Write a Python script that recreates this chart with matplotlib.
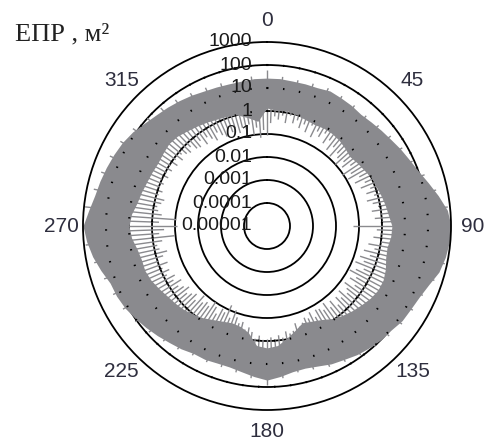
import numpy as np
import matplotlib
matplotlib.use('Agg')
import matplotlib.pyplot as plt
from matplotlib.ticker import NullLocator
from matplotlib.transforms import offset_copy

# envelope of the RCS band, every 5 degrees (m^2)
angles = list(range(0, 360, 5))
rcs_outer = [27, 27, 25, 25, 25, 30, 27, 25, 22, 25, 30, 37, 50, 67, 100, 182, 367, 741,
             1000, 906, 741, 548, 301, 202, 165, 149, 110, 100, 82, 67, 50, 41, 30, 25, 27, 37,
             50, 37, 27, 22, 22, 25, 25, 33, 41, 55, 74, 100, 135, 165, 182, 301, 497, 741,
             1000, 606, 406, 333, 272, 223, 182, 135, 90, 67, 55, 45, 37, 30, 27, 25, 25, 27]
rcs_inner = [1.35, 1.1, 1.2, 1.0, 0.82, 0.74, 0.82, 0.82, 0.74, 0.61, 0.5, 0.61, 0.74, 1.0, 1.1, 1.35, 1.65, 2.0,
             2.7, 2.5, 2.0, 2.2, 3.0, 3.7, 3.7, 3.0, 2.2, 1.65, 1.2, 0.82, 0.5, 0.37, 0.3, 0.5, 0.9, 1.65,
             2.0, 1.65, 0.5, 0.33, 0.3, 0.37, 0.5, 0.74, 1.0, 1.35, 1.65, 2.0, 2.7, 3.7, 4.5, 4.5, 5.5, 8.2,
             10, 8.2, 5.5, 4.5, 3.7, 3.3, 3.0, 3.3, 3.7, 3.3, 2.5, 2.0, 1.65, 1.35, 1.2, 1.0, 0.61, 0.37]

# narrow minima of the pattern, every 2 degrees (m^2)
dip_angles = list(range(0, 360, 2))
dip_values = [0.09, 0.3, 0.6, 0.45, 0.7, 0.35, 0.8, 0.4, 0.6, 0.3,
              0.5, 0.25, 0.6, 0.2, 0.45, 0.3, 0.55, 0.22, 0.4, 0.16,
              0.3, 0.12, 0.25, 0.18, 0.1, 0.22, 0.14, 0.3, 0.09, 0.2,
              0.12, 0.35, 0.18, 0.45, 0.25, 0.6, 0.35, 0.7, 0.3, 0.5,
              0.8, 0.4, 0.9, 0.5, 1.0, 0.055, 0.6, 0.9, 0.45, 1.0,
              0.3, 0.6, 0.22, 0.45, 0.18, 0.3, 0.14, 0.4, 0.2, 0.12,
              0.3, 0.18, 0.4, 0.15, 0.25, 0.35, 0.16, 0.3, 0.2, 0.4,
              0.18, 0.3, 0.14, 0.25, 0.18, 0.16, 0.3, 0.15, 0.25, 0.2,
              0.3, 0.4, 0.25, 0.5, 0.6, 0.45, 0.8, 0.6, 0.9, 0.7,
              0.8, 0.9, 0.6, 0.85, 0.45, 0.3, 0.4, 0.2, 0.25, 0.15,
              0.08, 0.2, 0.06, 0.15, 0.12, 0.25, 0.14, 0.1, 0.2, 0.16,
              0.22, 0.12, 0.3, 0.18, 0.25, 0.35, 0.2, 0.3, 0.45, 0.25,
              0.5, 0.35, 0.7, 0.45, 0.8, 0.4, 0.9, 0.5, 0.3, 0.6,
              0.7, 0.4, 0.11, 0.5, 0.3, 0.082, 0.5, 0.09, 0.4, 0.6,
              0.7, 0.5, 0.4, 0.8, 0.6, 0.9, 0.7, 1.0, 0.6, 0.85,
              0.6, 0.9, 0.5, 0.8, 0.45, 0.7, 0.5, 0.4, 0.6, 0.35,
              0.3, 0.5, 0.25, 0.45, 0.3, 0.2, 0.4, 0.25, 0.18, 0.35,
              0.22, 0.3, 0.16, 0.25, 0.12, 0.3, 0.1, 0.2, 0.07, 0.15]

# narrow maxima, every 6 degrees (m^2)
peak_angles = list(range(0, 360, 6))
peak_values = [60, 33, 30, 32, 36, 33, 30, 28, 34, 45,
               62, 85, 160, 330, 800, 1000, 1000, 800, 450, 260,
               210, 180, 140, 110, 85, 65, 50, 36, 32, 45,
               85, 45, 32, 28, 30, 31, 42, 55, 80, 120,
               170, 210, 280, 480, 850, 1000, 900, 500, 380, 300,
               230, 160, 100, 80, 60, 46, 38, 33, 31, 34]

rticks = [1e-5, 1e-4, 1e-3, 1e-2, 1e-1, 1, 10, 100, 1000]
rtick_labels = ['0.00001', '0.0001', '0.001', '0.01', '0.1', '1', '10', '100', '1000']
theta_ticks = list(range(0, 360, 45))

gray = '#8a8a8e'

fig = plt.figure(figsize=(4.85, 4.46), dpi=100)
ax = fig.add_axes([83/485, 36/446, 368/485, 368/446], projection='polar')
ax.set_theta_zero_location('N')
ax.set_theta_direction(-1)
ax.set_rscale('log')
ax.set_rlim(1e-5, 1e3)

ax.set_yticks(rticks[1:-1])
ax.yaxis.set_minor_locator(NullLocator())
ax.set_yticklabels([])
ax.set_axisbelow(True)
ax.yaxis.grid(True, color='black', lw=1.3, ls='-')
ax.xaxis.grid(False)
ax.spines['polar'].set_color('black')
ax.spines['polar'].set_linewidth(1.3)

th = np.deg2rad(angles + [360])
ax.fill_between(th, rcs_inner + rcs_inner[:1], rcs_outer + rcs_outer[:1], color=gray, lw=0, zorder=2)
ax.vlines(np.deg2rad(dip_angles), dip_values, 10, color=gray, lw=1.0, zorder=2)
ax.vlines(np.deg2rad(peak_angles), 10, peak_values, color=gray, lw=1.0, zorder=2)

# grid rings peeking through the trace
tt = np.linspace(0, 2*np.pi, 721)
for v in [1, 10, 100]:
    ax.plot(tt, [v]*len(tt), color='black', lw=1.5, ls=(0, (0.7, 7)), zorder=3)

ax.set_thetagrids(theta_ticks, [str(a) for a in theta_ticks],
                  fontsize=15, color='#2e2e3e', family='Liberation Sans')
ax.tick_params(axis='x', pad=5)

off = offset_copy(ax.transData, fig=fig, x=-15, y=0, units='dots')
for v, s in zip(rticks, rtick_labels):
    ax.text(0, v, s, transform=off, ha='right', va='center', fontsize=14,
            family='Liberation Sans', color='#1a1a1a', zorder=5)

fig.text(15/485, 1 - 40/446, 'ЕПР , м²', family='Liberation Serif', fontsize=19,
         ha='left', va='baseline', color='#222222')

fig.savefig('out.png', dpi=100)
